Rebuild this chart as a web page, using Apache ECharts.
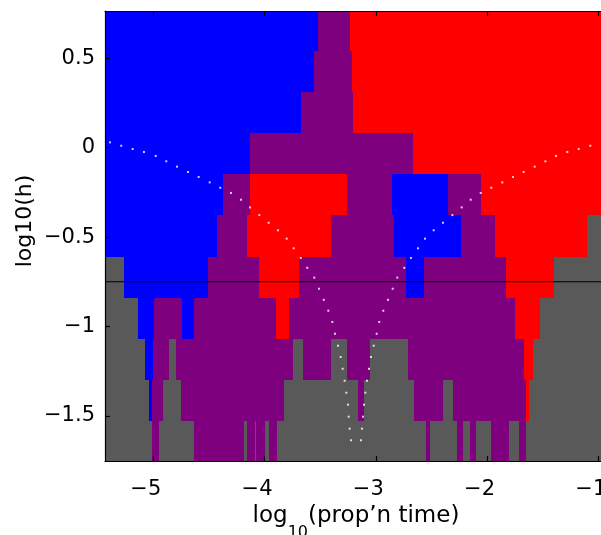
<!DOCTYPE html>
<html>
<head>
<meta charset="utf-8">
<script src="https://cdn.jsdelivr.net/npm/echarts@6/dist/echarts.min.js"></script>
<style>
html, body { margin: 0; padding: 0; background: #fff; }
#chart { width: 601px; height: 535px; }
</style>
</head>
<body>
<div id="chart"></div>
<script>
// axis ranges and tick labels
const xRange = [-5.434, -0.976]
const yRange = [-1.753, 0.765]
const xTicks = [-5, -4, -3, -2, -1]
const yTicks = [-1.5, -1, -0.5, 0, 0.5]

// row edges of the map, top to bottom
const rowEdges = [0.765, 0.541, 0.312, 0.082, -0.147, -0.377, -0.612, -0.841, -1.071, -1.300, -1.530, -1.753]

// each row: colour of every run (B blue, P purple, R red, G grey) and where the run ends
// the last run of a row goes on to the right edge
const runColors = [
  'BPR',
  'BPR',
  'BPR',
  'BPR',
  'BPRPBPR',
  'BPRPBPRG',
  'GBPRPBPRG',
  'GBPBPRPRG',
  'GBPGPGPGPGPRG',
  'GBPGPGPGPGPRG',
  'GPGPGPGPGPGPGPGPGPGPG'
]
const runEnds = [
  [-3.520, -3.231],
  [-3.556, -3.213],
  [-3.672, -3.204],
  [-4.131, -2.666],
  [-4.373, -4.131, -3.259, -2.854, -2.351, -2.054],
  [-4.427, -4.158, -3.402, -2.836, -2.234, -1.928, -1.102],
  [-5.263, -4.508, -4.050, -3.690, -2.728, -2.567, -1.830, -1.398],
  [-5.138, -4.994, -4.742, -4.634, -3.897, -3.780, -1.749, -1.524],
  [-5.075, -5.003, -4.859, -4.796, -3.744, -3.654, -3.402, -3.259, -3.051, -2.710, -1.668, -1.587],
  [-5.039, -5.012, -4.913, -4.751, -3.825, -3.159, -3.105, -2.657, -2.396, -2.306, -1.650, -1.623],
  [-5.012, -4.949, -4.634, -4.185, -4.158, -4.086, -4.077, -3.996, -3.960, -3.888, -2.549, -2.513, -2.270, -2.216, -2.153, -2.099, -1.964, -1.803, -1.713, -1.650]
]

// horizontal reference line
const refLineY = -0.75

// dotted curves
const leftDotX = [-5.389, -5.288, -5.185, -5.084, -4.978, -4.883, -4.787, -4.688, -4.592, -4.493, -4.398, -4.302, -4.212, -4.131, -4.047, -3.963, -3.879, -3.801, -3.738, -3.675, -3.616, -3.553, -3.511, -3.468, -3.427, -3.391, -3.367, -3.340, -3.316, -3.298, -3.280, -3.265, -3.250, -3.244, -3.235, -3.223]
const leftDotY = [0.030, 0.011, -0.007, -0.024, -0.046, -0.076, -0.106, -0.136, -0.164, -0.194, -0.224, -0.253, -0.291, -0.334, -0.377, -0.420, -0.462, -0.509, -0.563, -0.617, -0.672, -0.727, -0.789, -0.851, -0.912, -0.975, -1.041, -1.108, -1.171, -1.237, -1.304, -1.371, -1.438, -1.505, -1.572, -1.637]
const rightDotX = [-3.133, -3.124, -3.115, -3.106, -3.094, -3.079, -3.061, -3.043, -3.019, -2.992, -2.969, -2.933, -2.890, -2.848, -2.807, -2.744, -2.684, -2.621, -2.558, -2.480, -2.396, -2.312, -2.228, -2.147, -2.057, -1.962, -1.863, -1.767, -1.671, -1.572, -1.476, -1.380, -1.279, -1.176, -1.072]
const rightDotY = [-1.637, -1.572, -1.505, -1.438, -1.371, -1.304, -1.237, -1.171, -1.108, -1.041, -0.975, -0.912, -0.851, -0.789, -0.727, -0.672, -0.617, -0.563, -0.509, -0.462, -0.420, -0.377, -0.334, -0.291, -0.253, -0.224, -0.194, -0.164, -0.136, -0.106, -0.076, -0.046, -0.024, -0.007, 0.011]

const palette = { B: '#0000ff', P: '#7f007f', R: '#ff0000', G: '#595959' }
const font = '"DejaVu Sans", Verdana, sans-serif'

// build the rectangles row by row
const cells = []
runColors.forEach((colors, i) => {
  let start = xRange[0]
  for (let j = 0; j < colors.length; j++) {
    const end = j < runEnds[i].length ? runEnds[i][j] : xRange[1]
    cells.push([start, end, rowEdges[i + 1], rowEdges[i], colors[j]])
    start = end
  }
})

const leftDots = leftDotX.map((x, i) => [x, leftDotY[i]])
const rightDots = rightDotX.map((x, i) => [x, rightDotY[i]])

const minus = v => String(v).replace('-', '\u2212')

const chart = echarts.init(document.getElementById('chart'), null, { renderer: 'canvas' })

const axisCommon = {
  type: 'value',
  z: 10,
  axisLine: { show: true, onZero: false, lineStyle: { color: '#000', width: 1.2 } },
  axisTick: { show: true, inside: true, length: 5, lineStyle: { color: '#000', width: 1.2 } },
  splitLine: { show: false }
}

chart.setOption({
  animation: false,
  backgroundColor: '#fff',
  grid: { left: 105, right: 0, top: 11, bottom: 74, containLabel: false, outerBoundsMode: 'none' },
  xAxis: [
    Object.assign({}, axisCommon, {
      position: 'bottom',
      min: xRange[0],
      max: xRange[1],
      axisTick: Object.assign({}, axisCommon.axisTick, { customValues: xTicks }),
      axisLabel: {
        customValues: xTicks,
        formatter: minus,
        color: '#000',
        fontSize: 21,
        fontFamily: font,
        margin: 18,
        padding: [0, 15, 0, 0]
      }
    }),
    Object.assign({}, axisCommon, {
      position: 'top',
      min: xRange[0],
      max: xRange[1],
      axisTick: Object.assign({}, axisCommon.axisTick, { customValues: xTicks }),
      axisLabel: { show: false }
    })
  ],
  yAxis: [
    Object.assign({}, axisCommon, {
      position: 'left',
      min: yRange[0],
      max: yRange[1],
      axisTick: Object.assign({}, axisCommon.axisTick, { customValues: yTicks }),
      axisLabel: {
        customValues: yTicks,
        formatter: minus,
        color: '#000',
        fontSize: 21,
        fontFamily: font,
        margin: 10
      }
    })
  ],
  series: [
    {
      type: 'custom',
      clip: true,
      z: 2,
      data: cells.map(c => c.slice(0, 4)),
      encode: { x: [0, 1], y: [2, 3] },
      renderItem: (params, api) => {
        const p0 = api.coord([api.value(0), api.value(3)])
        const p1 = api.coord([api.value(1), api.value(2)])
        const x = Math.round(p0[0])
        const y = Math.round(p0[1])
        return {
          type: 'rect',
          shape: { x: x, y: y, width: Math.round(p1[0]) - x, height: Math.round(p1[1]) - y },
          style: { fill: palette[cells[params.dataIndex][4]] }
        }
      }
    },
    {
      type: 'line',
      z: 4,
      data: [[xRange[0], refLineY], [xRange[1], refLineY]],
      symbol: 'none',
      lineStyle: { color: '#000', width: 1 },
      silent: true
    },
    {
      type: 'scatter',
      z: 5,
      data: leftDots,
      symbol: 'rect',
      symbolSize: 2,
      itemStyle: { color: '#ffffff' },
      silent: true
    },
    {
      type: 'scatter',
      z: 5,
      data: rightDots,
      symbol: 'rect',
      symbolSize: 2,
      itemStyle: { color: '#ffffff' },
      silent: true
    }
  ],
  graphic: [
    {
      type: 'text',
      x: 25,
      y: 221,
      rotation: Math.PI / 2,
      style: {
        text: 'log10(h)',
        font: '22px ' + font,
        fill: '#000',
        align: 'center',
        verticalAlign: 'middle'
      }
    },
    {
      type: 'text',
      x: 356,
      y: 505,
      style: {
        text: '{a|log}{s|10}{a|(prop\u2019n time)}',
        fill: '#000',
        align: 'center',
        verticalAlign: 'top',
        rich: {
          a: { fontSize: 23, fontFamily: font, fill: '#000', verticalAlign: 'top', lineHeight: 26 },
          s: { fontSize: 16, fontFamily: font, fill: '#000', verticalAlign: 'top', lineHeight: 26, padding: [20, 0, 0, 0] }
        }
      }
    }
  ]
})
</script>
</body>
</html>
